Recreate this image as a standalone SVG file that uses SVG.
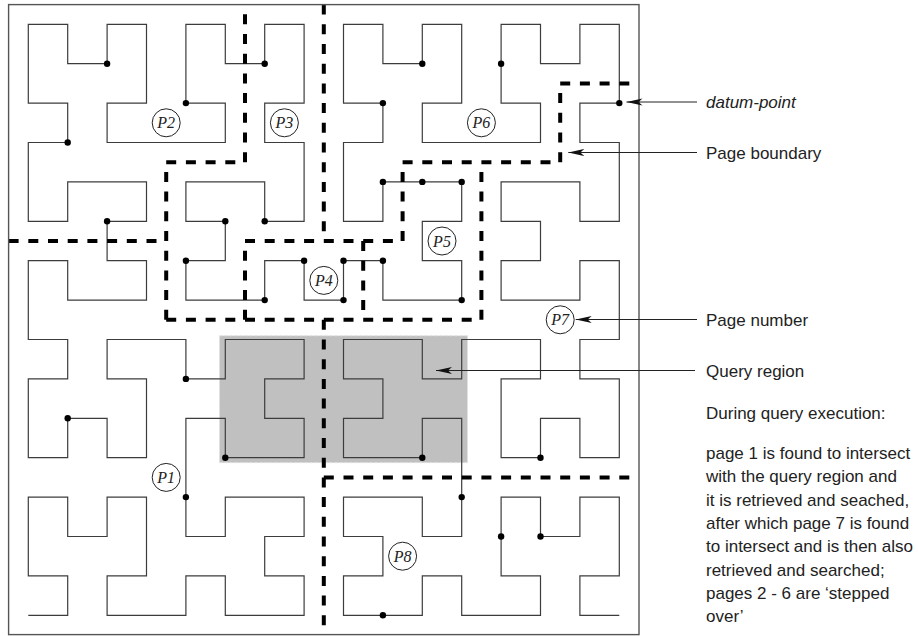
<svg xmlns="http://www.w3.org/2000/svg" width="918" height="636" viewBox="0 0 918 636">
<style>
.curve{fill:none;stroke:#3c3c3c;stroke-width:1.2}
.pb{fill:none;stroke:#000;stroke-width:4;stroke-dasharray:10 9.7}
.dot{fill:#000}
.pl circle{fill:#fff;stroke:#222;stroke-width:1}
.pl text{font-family:'Liberation Serif','Times New Roman',serif;font-style:italic;font-size:16px;text-anchor:middle;fill:#222}
.lbl{font-family:'Liberation Sans',Arial,sans-serif;font-size:17px;fill:#222}
.lead{stroke:#222;stroke-width:1;fill:none}
</style>
<defs>
<marker id="arr" markerUnits="userSpaceOnUse" markerWidth="18" markerHeight="10" refX="16" refY="5" orient="auto" viewBox="0 0 18 10">
<path d="M16 5 L0 1.5 L4 5 L0 8.5 Z" fill="#111"/>
</marker>
</defs>
<rect x="0" y="0" width="918" height="636" fill="#fff"/>
<g id="query-region">
<rect x="219.5" y="335.7" width="248" height="127" fill="#c0c0c0" stroke="#e2e2e2" stroke-width="1" stroke-dasharray="3 2"/>
</g>
<g id="hilbert-curve">
<path class="curve" vector-effect="non-scaling-stroke" transform="translate(28.3 615.3) scale(39.4)" d="M0 0
h1v-1h-1v-1v-1h1v1h1v-1h1v1v1h-1v1h1
h1
v-1h1v1h1h1v-1h-1v-1h1v-1h-1h-1v1h-1v-1
v-1
v-1h1v1h1h1v-1h-1v-1h1v-1h-1h-1v1h-1v-1
h-1
h-1v1h1v1v1h-1v-1h-1v1h-1v-1v-1h1v-1h-1
v-1
v-1h1v1h1h1v-1h-1v-1h1v-1h-1h-1v1h-1v-1
v-1
h1v-1h-1v-1v-1h1v1h1v-1h1v1v1h-1v1h1
h1
h1v-1h-1v-1v-1h1v1h1v-1h1v1v1h-1v1h1
v1
v1h-1v-1h-1h-1v1h1v1h-1v1h1h1v-1h1v1
h1
v-1h1v1h1h1v-1h-1v-1h1v-1h-1h-1v1h-1v-1
v-1
h1v-1h-1v-1v-1h1v1h1v-1h1v1v1h-1v1h1
h1
h1v-1h-1v-1v-1h1v1h1v-1h1v1v1h-1v1h1
v1
v1h-1v-1h-1h-1v1h1v1h-1v1h1h1v-1h1v1
v1
h-1v1h1v1v1h-1v-1h-1v1h-1v-1v-1h1v-1h-1
h-1
v1h-1v-1h-1h-1v1h1v1h-1v1h1h1v-1h1v1
v1
v1h-1v-1h-1h-1v1h1v1h-1v1h1h1v-1h1v1
h1
h1v-1h-1v-1v-1h1v1h1v-1h1v1v1h-1v1h1"/>
</g>
<g id="page-boundaries">
<path class="pb" d="M8.6 241 H166.2"/>
<path class="pb" d="M166.2 319.8 V162.2 H245 V4.6"/>
<path class="pb" d="M323.8 4.6 V241"/>
<path class="pb" d="M245 319.8 V241 H402.6 V162.2 H560.2 V83.4 H639"/>
<path class="pb" d="M166.2 319.8 H481.4 V162.2"/>
<path class="pb" d="M363.2 241 V319.8"/>
<path class="pb" d="M323.8 319.8 V634.6"/>
<path class="pb" d="M323.8 477.4 H639"/>
</g>
<g id="datum-points">
<circle class="dot" cx="107.1" cy="63.7" r="3.2"/>
<circle class="dot" cx="185.9" cy="103.1" r="3.2"/>
<circle class="dot" cx="67.7" cy="142.5" r="3.2"/>
<circle class="dot" cx="264.7" cy="63.7" r="3.2"/>
<circle class="dot" cx="382.9" cy="103.1" r="3.2"/>
<circle class="dot" cx="422.3" cy="63.7" r="3.2"/>
<circle class="dot" cx="501.1" cy="63.7" r="3.2"/>
<circle class="dot" cx="619.3" cy="103.1" r="3.2"/>
<circle class="dot" cx="382.9" cy="181.9" r="3.2"/>
<circle class="dot" cx="422.3" cy="181.9" r="3.2"/>
<circle class="dot" cx="461.7" cy="181.9" r="3.2"/>
<circle class="dot" cx="107.1" cy="221.3" r="3.2"/>
<circle class="dot" cx="225.3" cy="221.3" r="3.2"/>
<circle class="dot" cx="264.7" cy="221.3" r="3.2"/>
<circle class="dot" cx="185.9" cy="260.7" r="3.2"/>
<circle class="dot" cx="304.1" cy="260.7" r="3.2"/>
<circle class="dot" cx="343.5" cy="260.7" r="3.2"/>
<circle class="dot" cx="382.9" cy="260.7" r="3.2"/>
<circle class="dot" cx="264.7" cy="300.1" r="3.2"/>
<circle class="dot" cx="343.5" cy="300.1" r="3.2"/>
<circle class="dot" cx="461.7" cy="300.1" r="3.2"/>
<circle class="dot" cx="185.9" cy="378.9" r="3.2"/>
<circle class="dot" cx="67.7" cy="418.3" r="3.2"/>
<circle class="dot" cx="225.3" cy="457.7" r="3.2"/>
<circle class="dot" cx="422.3" cy="457.7" r="3.2"/>
<circle class="dot" cx="540.5" cy="457.7" r="3.2"/>
<circle class="dot" cx="185.9" cy="497.1" r="3.2"/>
<circle class="dot" cx="461.7" cy="497.1" r="3.2"/>
<circle class="dot" cx="501.1" cy="536.5" r="3.2"/>
<circle class="dot" cx="540.5" cy="536.5" r="3.2"/>
<circle class="dot" cx="382.9" cy="615.3" r="3.2"/>
</g>
<g id="page-P1" class="pl"><circle cx="166.2" cy="477.4" r="14"/><text x="166.2" y="483">P1</text></g>
<g id="page-P2" class="pl"><circle cx="166.2" cy="122.8" r="14"/><text x="166.2" y="128.4">P2</text></g>
<g id="page-P3" class="pl"><circle cx="284.4" cy="122.8" r="14"/><text x="284.4" y="128.4">P3</text></g>
<g id="page-P4" class="pl"><circle cx="323.8" cy="280.4" r="14"/><text x="323.8" y="286">P4</text></g>
<g id="page-P5" class="pl"><circle cx="442" cy="241" r="14"/><text x="442" y="246.6">P5</text></g>
<g id="page-P6" class="pl"><circle cx="481.4" cy="122.8" r="14"/><text x="481.4" y="128.4">P6</text></g>
<g id="page-P7" class="pl"><circle cx="560.2" cy="319.8" r="14"/><text x="560.2" y="325.4">P7</text></g>
<g id="page-P8" class="pl"><circle cx="402.6" cy="556.2" r="14"/><text x="402.6" y="561.8">P8</text></g>
<g id="frame">
<rect x="8.6" y="4.6" width="630.4" height="630" fill="none" stroke="#555" stroke-width="1.4"/>
</g>
<g id="connectors">
<line class="lead" x1="697" y1="102" x2="626.5" y2="102" marker-end="url(#arr)"/>
<line class="lead" x1="697" y1="152.5" x2="568.3" y2="152.5" marker-end="url(#arr)"/>
<line class="lead" x1="697" y1="319.5" x2="575.7" y2="319.5" marker-end="url(#arr)"/>
<line class="lead" x1="695" y1="370.5" x2="436" y2="370.5" marker-end="url(#arr)"/>
</g>
<g id="annotations">
<text class="lbl" x="706" y="108" font-style="italic">datum-point</text>
<text class="lbl" x="706" y="159">Page boundary</text>
<text class="lbl" x="706" y="326">Page number</text>
<text class="lbl" x="706" y="377">Query region</text>
<text class="lbl" x="706" y="419">During query execution:</text>
<text class="lbl" x="706" y="459">page 1 is found to intersect</text>
<text class="lbl" x="706" y="482.3">with the query region and</text>
<text class="lbl" x="706" y="505.6">it is retrieved and seached,</text>
<text class="lbl" x="706" y="528.9">after which page 7 is found</text>
<text class="lbl" x="706" y="552.2">to intersect and is then also</text>
<text class="lbl" x="706" y="575.5">retrieved and searched;</text>
<text class="lbl" x="706" y="598.8">pages 2 - 6 are ‘stepped</text>
<text class="lbl" x="706" y="622.1">over’</text>
</g>
</svg>
